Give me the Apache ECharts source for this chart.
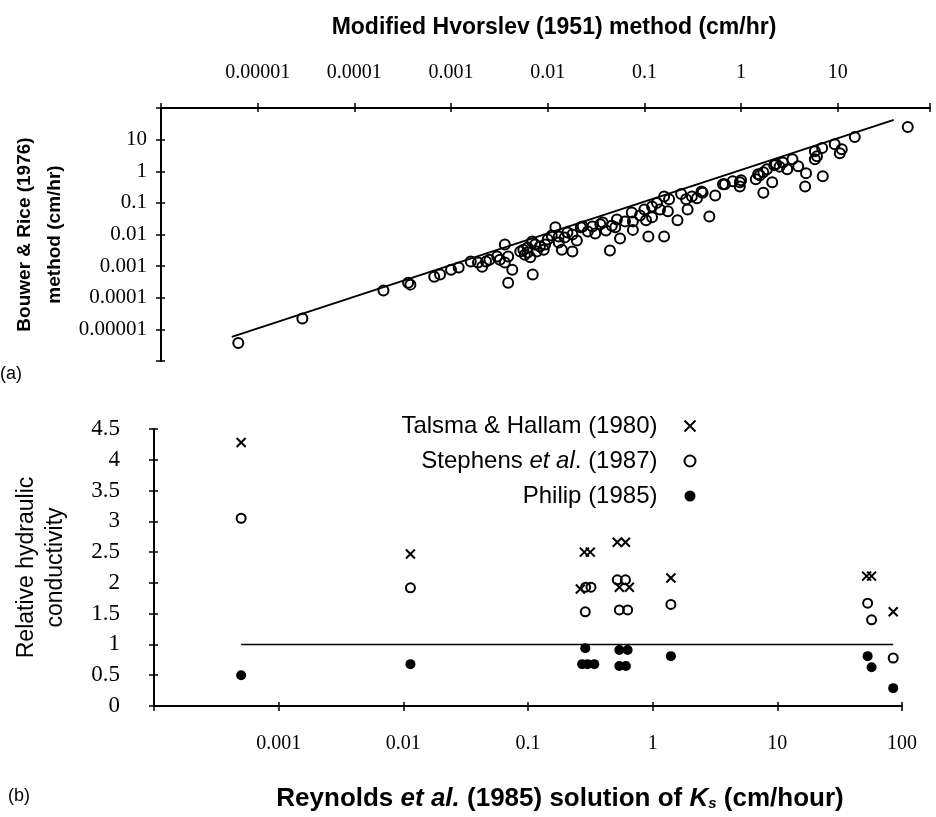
<!DOCTYPE html>
<html>
<head>
<meta charset="utf-8">
<script src="https://cdn.jsdelivr.net/npm/echarts@6/dist/echarts.min.js"></script>
<style>
html, body { margin: 0; padding: 0; background: #fff; }
#main { width: 936px; height: 817px; }
</style>
</head>
<body>
<div id="main"></div>
<script>
// (a) Bouwer & Rice (1976) against modified Hvorslev (1951), cm/hr
var hvorslev = [6.3e-6, 2.9e-5, 2.0e-4, 3.6e-4, 3.8e-4, 6.7e-4, 7.7e-4, 1.0e-3, 1.2e-3, 1.6e-3,
    1.9e-3, 2.1e-3, 2.3e-3, 2.5e-3, 3.0e-3, 3.2e-3, 3.6e-3, 3.9e-3, 3.6e-3, 4.3e-3,
    3.9e-3, 5.6e-3, 6.2e-3, 6.9e-3, 7.4e-3, 6.6e-3, 6.2e-3, 8.3e-3, 9.4e-3, 7.0e-3,
    5.2e-3, 5.8e-3, 0.012, 0.013, 0.013, 0.014, 0.015, 0.018, 0.018, 0.022,
    0.023, 0.026, 0.029, 0.035, 0.037, 0.044, 0.052, 0.056, 0.050, 0.063,
    0.074, 0.076, 0.076, 0.10, 0.11, 0.12, 0.12, 0.135, 0.16, 0.16,
    0.175, 0.18, 0.22, 0.24, 0.28, 0.31, 0.35, 0.39, 0.47, 0.54,
    0.65, 0.82, 0.97, 0.97, 1.5, 1.7, 1.85, 1.7, 2.1, 2.3,
    2.5, 2.7, 3.0, 3.4, 4.6, 4.7, 7.0, 5.8, 6.1, 5.8,
    6.9, 9.3, 11, 10.5, 15, 53, 0.40, 0.68, 1.0, 1.56,
    2.2, 0.016, 0.020, 0.031, 0.040, 0.046, 0.010, 0.011, 0.090, 0.145,
    0.104, 0.27, 1.42, 3.9, 0.0091, 0.0077];
var bouwerRice = [3.7e-6, 2.2e-5, 1.7e-4, 3.0e-4, 2.6e-4, 4.6e-4, 5.4e-4, 7.7e-4, 9.0e-4, 1.4e-3,
    1.3e-3, 9.6e-4, 1.4e-3, 1.6e-3, 2.0e-3, 1.6e-3, 4.8e-3, 2.0e-3, 1.3e-3, 7.7e-4,
    3.0e-4, 3.3e-3, 3.9e-3, 6.0e-3, 4.8e-3, 1.9e-3, 2.7e-3, 4.2e-3, 4.8e-3, 5.4e-4,
    2.9e-3, 2.3e-3, 0.017, 0.0087, 0.0056, 0.0033, 0.008, 0.0029, 0.010, 0.017,
    0.018, 0.0125, 0.018, 0.021, 0.024, 0.0031, 0.030, 0.0075, 0.017, 0.026,
    0.050, 0.014, 0.026, 0.062, 0.0086, 0.077, 0.035, 0.10, 0.16, 0.0086,
    0.054, 0.13, 0.028, 0.19, 0.062, 0.16, 0.14, 0.23, 0.037, 0.17,
    0.39, 0.48, 0.45, 0.33, 0.80, 0.93, 1.16, 0.21, 0.45, 1.7,
    1.4, 1.9, 1.16, 2.4, 0.33, 0.87, 0.69, 4.3, 3.0, 2.4,
    5.4, 7.2, 5.0, 3.7, 12, 25, 0.21, 0.39, 0.52, 0.75,
    1.55, 0.0116, 0.0065, 0.0108, 0.0134, 0.019, 0.0069, 0.0093, 0.040, 0.062,
    0.028, 0.13, 0.56, 1.44, 0.0033, 0.0029];
var fitLineX = [5.4e-6, 38];
var fitLineY = [5.8e-6, 42];
var topXLabels = ['0.00001', '0.0001', '0.001', '0.01', '0.1', '1', '10'];   // 1e-5 .. 10
var topYLabels = ['0.00001', '0.0001', '0.001', '0.01', '0.1', '1', '10'];

// (b) relative hydraulic conductivity against Reynolds et al. (1985) Ks, cm/hour
var talsmaX = [5.0e-4, 0.0114, 0.283, 0.316, 0.263, 0.52, 0.605, 0.54, 0.65, 1.40, 52, 57, 85];
var talsmaY = [4.28, 2.47, 2.50, 2.50, 1.90, 2.66, 2.66, 1.93, 1.93, 2.08, 2.11, 2.11, 1.53];
var stephensX = [5.0e-4, 0.0114, 0.29, 0.32, 0.288, 0.52, 0.605, 0.54, 0.63, 1.40, 53, 57, 85];
var stephensY = [3.05, 1.92, 1.93, 1.93, 1.53, 2.05, 2.05, 1.56, 1.56, 1.65, 1.67, 1.40, 0.78];
var philipX = [5.0e-4, 0.0114, 0.288, 0.272, 0.30, 0.34, 0.54, 0.63, 0.54, 0.61, 1.40, 53, 57, 85];
var philipY = [0.50, 0.68, 0.94, 0.68, 0.68, 0.68, 0.91, 0.91, 0.65, 0.65, 0.81, 0.81, 0.63, 0.29];
var refLineX = [5.0e-4, 85];
var refLineY = [1, 1];
var bottomXLabels = ['0.001', '0.01', '0.1', '1', '10', '100'];               // 1e-3 .. 100

var SERIF = "'Liberation Serif', 'Times New Roman', serif";
var SANS = "'Liberation Sans', Arial, Helvetica, sans-serif";
var CROSS = 'path://M0,0L10,10M10,0L0,10';

function pairs(xs, ys) {
    return xs.map(function (x, i) { return [x, ys[i]]; });
}

// label only on whole decades, starting at 10^firstExp
function decadeLabel(labels, firstExp) {
    return function (v) {
        var l = Math.log10(v), e = Math.round(l);
        if (Math.abs(l - e) > 1e-6) return '';
        return labels[e - firstExp] || '';
    };
}

var blackLine = { show: true, lineStyle: { color: '#000', width: 2 } };
var tickOut = { show: true, length: 5, lineStyle: { color: '#000', width: 1.5 } };
var tickIn = { show: true, inside: true, length: 4, lineStyle: { color: '#000', width: 1.5 } };
var noSplit = { show: false };

function twin(base) {
    // same scale and side, ticks drawn inward so they cross the axis line
    return Object.assign({}, base, {
        name: '', axisLine: { show: false }, axisLabel: { show: false },
        axisTick: tickIn, offset: 0, silent: true
    });
}

var topX = {
    gridIndex: 0, type: 'log', position: 'top', min: 1e-6, max: 90, splitNumber: 10,
    axisLine: blackLine, axisTick: tickOut, splitLine: noSplit,
    axisLabel: { color: '#000', fontFamily: SERIF, fontSize: 20, margin: 25,
        formatter: decadeLabel(topXLabels, -5) }
};
var topY = {
    gridIndex: 0, type: 'log', position: 'left', min: 1e-6, max: 100, splitNumber: 10,
    axisLine: blackLine, axisTick: tickOut, splitLine: noSplit,
    axisLabel: { color: '#000', fontFamily: SERIF, fontSize: 21, margin: 14,
        formatter: decadeLabel(topYLabels, -5) },
    name: 'Bouwer & Rice (1976)\nmethod (cm/hr)', nameLocation: 'middle', nameRotate: 90,
    nameGap: 91, nameMoveOverlap: false,
    nameTextStyle: { color: '#000', fontFamily: SANS, fontWeight: 'bold', fontSize: 19, lineHeight: 30 }
};
var botX = {
    gridIndex: 1, type: 'log', position: 'bottom', min: 1e-4, max: 100, splitNumber: 10,
    axisLine: blackLine, axisTick: tickOut, splitLine: noSplit,
    axisLabel: { color: '#000', fontFamily: SERIF, fontSize: 20, margin: 28,
        formatter: decadeLabel(bottomXLabels, -3) }
};
var botY = {
    gridIndex: 1, type: 'value', position: 'left', min: 0, max: 4.5, interval: 0.5,
    axisLine: blackLine, axisTick: tickOut, splitLine: noSplit,
    axisLabel: { color: '#000', fontFamily: SERIF, fontSize: 23, margin: 34 },
    name: 'Relative hydraulic\nconductivity', nameLocation: 'middle', nameRotate: 90,
    nameGap: 84, nameMoveOverlap: false,
    nameTextStyle: { color: '#000', fontFamily: SANS, fontSize: 23, lineHeight: 29 }
};

var myChart = echarts.init(document.getElementById('main'));
var option = {
    backgroundColor: '#fff',
    animation: false,
    title: [{
        text: 'Modified Hvorslev (1951) method (cm/hr)', left: 554, top: 16, textAlign: 'center', padding: 0,
        textStyle: { color: '#000', fontFamily: SANS, fontWeight: 'bold', fontSize: 23 }
    }, {
        text: '(a)', left: 0, top: 365, padding: 0,
        textStyle: { color: '#000', fontFamily: SANS, fontWeight: 'normal', fontSize: 18 }
    }, {
        text: '(b)', left: 8, top: 787, padding: 0,
        textStyle: { color: '#000', fontFamily: SANS, fontWeight: 'normal', fontSize: 18 }
    }, {
        text: '{b|Reynolds }{bi|et al.}{b| (1985) solution of }{bi|K}{sub|s}{b| (cm/hour)}',
        left: 560, top: 786, textAlign: 'center', padding: 0,
        textStyle: {
            rich: {
                b: { color: '#000', fontFamily: SANS, fontWeight: 'bold', fontSize: 26 },
                bi: { color: '#000', fontFamily: SANS, fontWeight: 'bold', fontStyle: 'italic', fontSize: 26 },
                sub: { color: '#000', fontFamily: SANS, fontWeight: 'bold', fontStyle: 'italic', fontSize: 15, padding: [10, 0, 0, 0] }
            }
        }
    }],
    grid: [
        { left: 161, right: 6, top: 108, bottom: 456, outerBoundsMode: 'none' },
        { left: 154, right: 34, top: 429, bottom: 111, outerBoundsMode: 'none' }
    ],
    xAxis: [topX, twin(topX), botX, twin(botX)],
    yAxis: [topY, twin(topY), botY, twin(botY)],
    legend: {
        orient: 'vertical', align: 'right', right: 233, top: 409,
        itemWidth: 11, itemHeight: 11, itemGap: 11, selectedMode: false,
        textStyle: {
            color: '#000', fontFamily: SANS, fontSize: 24, lineHeight: 23, padding: [0, 22, 0, 0],
            rich: { i: { color: '#000', fontFamily: SANS, fontSize: 24, fontStyle: 'italic' } }
        },
        formatter: function (name) {
            return name === 'Stephens et al. (1987)' ? 'Stephens {i|et al}. (1987)' : name;
        },
        data: [
            { name: 'Talsma & Hallam (1980)', icon: CROSS,
                itemStyle: { color: 'none', borderColor: '#000', borderWidth: 2 } },
            { name: 'Stephens et al. (1987)', icon: 'circle',
                itemStyle: { color: '#fff', borderColor: '#000', borderWidth: 2 } },
            { name: 'Philip (1985)', icon: 'circle',
                itemStyle: { color: '#000', borderColor: '#000', borderWidth: 0 } }
        ]
    },
    series: [{
        type: 'line', xAxisIndex: 0, yAxisIndex: 0, data: pairs(fitLineX, fitLineY),
        showSymbol: false, silent: true, lineStyle: { color: '#000', width: 2 }, z: 2
    }, {
        name: 'Hvorslev vs Bouwer & Rice', type: 'scatter', xAxisIndex: 0, yAxisIndex: 0,
        data: pairs(hvorslev, bouwerRice), symbol: 'circle', symbolSize: 10,
        itemStyle: { color: 'rgba(0,0,0,0)', borderColor: '#000', borderWidth: 2, opacity: 1 }, z: 3
    }, {
        type: 'line', xAxisIndex: 2, yAxisIndex: 2, data: pairs(refLineX, refLineY),
        showSymbol: false, silent: true, lineStyle: { color: '#000', width: 1.5 }, z: 2
    }, {
        name: 'Talsma & Hallam (1980)', type: 'scatter', xAxisIndex: 2, yAxisIndex: 2,
        data: pairs(talsmaX, talsmaY), symbol: CROSS, symbolSize: 9,
        itemStyle: { color: 'none', borderColor: '#000', borderWidth: 2, opacity: 1 }, z: 3
    }, {
        name: 'Stephens et al. (1987)', type: 'scatter', xAxisIndex: 2, yAxisIndex: 2,
        data: pairs(stephensX, stephensY), symbol: 'circle', symbolSize: 9,
        itemStyle: { color: 'rgba(0,0,0,0)', borderColor: '#000', borderWidth: 2, opacity: 1 }, z: 3
    }, {
        name: 'Philip (1985)', type: 'scatter', xAxisIndex: 2, yAxisIndex: 2,
        data: pairs(philipX, philipY), symbol: 'circle', symbolSize: 10,
        itemStyle: { color: '#000', opacity: 1 }, z: 3
    }]
};
myChart.setOption(option);
</script>
</body>
</html>
